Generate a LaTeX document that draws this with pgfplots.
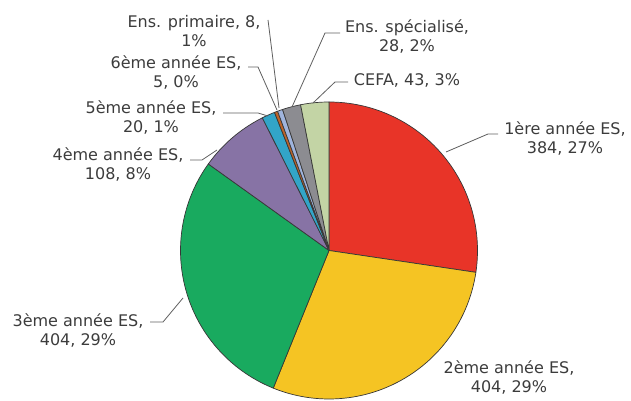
\documentclass[border=0pt]{standalone}
\usepackage{fontspec}
\setmainfont{DejaVu Sans}
\usepackage{pgfplots}
\usepackage{pgfplotstable}
\pgfplotsset{compat=1.18}

\definecolor{c1}{RGB}{232,52,40}
\definecolor{c2}{RGB}{245,196,35}
\definecolor{c3}{RGB}{25,170,95}
\definecolor{c4}{RGB}{135,115,165}
\definecolor{c5}{RGB}{50,165,200}
\definecolor{c6}{RGB}{190,100,40}
\definecolor{c7}{RGB}{160,180,220}
\definecolor{c8}{RGB}{140,140,145}
\definecolor{c9}{RGB}{195,212,165}
\definecolor{pieedge}{RGB}{55,55,55}
\definecolor{labtext}{RGB}{60,60,60}
\definecolor{leadgray}{RGB}{95,95,95}

% counts, clockwise from 12 o'clock
\pgfplotstableread{
count col
384 c1
404 c2
404 c3
108 c4
20 c5
5 c6
8 c7
28 c8
43 c9
}\piedata

\begin{document}
\begin{tikzpicture}[
 lab/.style={font=\fontsize{16bp}{19bp}\selectfont,align=center,text=labtext,inner sep=0pt},
 lead/.style={draw=leadgray,line width=0.8bp}]
\begin{axis}[
 width=631bp,height=401bp,scale only axis,
 xmin=0,xmax=631,ymin=0,ymax=401,
 hide axis,clip=false,
]
\def\cum{0}
\pgfplotsforeachungrouped \i in {0,...,8}{
 \pgfplotstablegetelem{\i}{count}\of\piedata \let\v=\pgfplotsretval
 \pgfplotstablegetelem{\i}{col}\of\piedata \let\c=\pgfplotsretval
 \pgfmathsetmacro\a{90-\cum/1404*360}
 \pgfmathsetmacro\b{90-(\cum+\v)/1404*360}
 \edef\temp{\noexpand\fill[fill=\c,draw=pieedge,line width=0.7bp,line join=round]
  (axis cs:329,150.5) -- ++(\a:148.5bp) arc[start angle=\a,end angle=\b,radius=148.5bp] -- cycle;}
 \temp
 \pgfmathsetmacro\cum{\cum+\v}
}

% leader lines
\draw[lead] (axis cs:498,267) -- (axis cs:488,267) -- (axis cs:446,249);
\draw[lead] (axis cs:150,79) -- (axis cs:163,79) -- (axis cs:183,103);
\draw[lead] (axis cs:190,241) -- (axis cs:202,241) -- (axis cs:217,251);
\draw[lead] (axis cs:223,288) -- (axis cs:258,288) -- (axis cs:268,285);
\draw[lead] (axis cs:248,334) -- (axis cs:258,334) -- (axis cs:277,291);
\draw[lead] (axis cs:268,381) -- (axis cs:279,293);
\draw[lead] (axis cs:340,368) -- (axis cs:325,368) -- (axis cs:292,294);
\draw[lead] (axis cs:348,319) -- (axis cs:335,319) -- (axis cs:313,298);

% labels
\node[lab] at (axis cs:565,262) {1ère année ES,\\384, 27\%};
\node[lab] at (axis cs:509,23) {2ème année ES,\\404, 29\%};
\node[lab] at (axis cs:78,70) {3ème année ES,\\404, 29\%};
\node[lab] at (axis cs:118,236) {4ème année ES,\\108, 8\%};
\node[lab] at (axis cs:151,283.5) {5ème année ES,\\20, 1\%};
\node[lab] at (axis cs:176,328) {6ème année ES,\\5, 0\%};
\node[lab] at (axis cs:194,370) {Ens. primaire, 8,\\1\%};
\node[lab] at (axis cs:407,364) {Ens. spécialisé,\\28, 2\%};
\node[lab] at (axis cs:407,321) {CEFA, 43, 3\%};
\end{axis}
\pgfresetboundingbox
\path[use as bounding box] (current axis.south west) rectangle (current axis.north east);
\end{tikzpicture}
\end{document}
